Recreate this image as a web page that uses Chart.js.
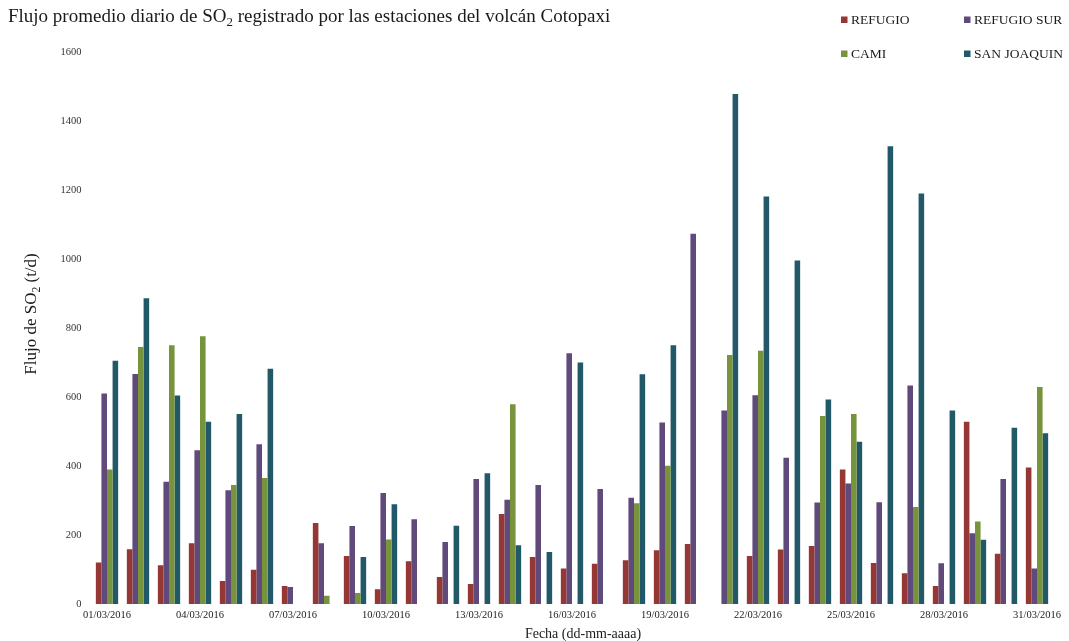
<!DOCTYPE html>
<html>
<head>
<meta charset="utf-8">
<script src="https://cdn.jsdelivr.net/npm/chart.js@4/dist/chart.umd.min.js"></script>
<style>
  html, body { margin: 0; padding: 0; background: #ffffff; }
  #wrap { width: 1069px; height: 641px; }
</style>
</head>
<body>
<div id="wrap"><canvas id="c" width="1069" height="641"></canvas></div>
<script>
// Daily dates, March 2016
const fechas = [
  '01/03/2016','02/03/2016','03/03/2016','04/03/2016','05/03/2016','06/03/2016','07/03/2016',
  '08/03/2016','09/03/2016','10/03/2016','11/03/2016','12/03/2016','13/03/2016','14/03/2016',
  '15/03/2016','16/03/2016','17/03/2016','18/03/2016','19/03/2016','20/03/2016','21/03/2016',
  '22/03/2016','23/03/2016','24/03/2016','25/03/2016','26/03/2016','27/03/2016','28/03/2016',
  '29/03/2016','30/03/2016','31/03/2016'
];

// Mean daily SO2 flux (t/d) per station; null = no measurement
const refugio = [
  120, 159, 112, 176, 67, 99, 52, 235, 139, 43, 124, 78, 58, 261, 136, 103, 117, 127, 156, 174,
  null, 139, 158, 168, 390, 119, 89, 52, 528, 146, 396
];
const refugioSur = [
  610, 667, 354, 446, 330, 463, 49, 176, 226, 322, 246, 180, 362, 302, 345, 727, 333, 308, 526, 1073,
  561, 605, 424, 294, 349, 295, 633, 118, 205, 362, 103
];
const cami = [
  390, 745, 750, 776, 345, 365, null, 24, 32, 187, null, null, null, 579, null, null, null, 292, 401, null,
  722, 734, null, 545, 551, null, 281, null, 239, null, 629
];
const sanJoaquin = [
  705, 886, 604, 528, 551, 682, null, null, 136, 289, null, 227, 379, 170, 151, 700, null, 666, 750, null,
  1478, 1181, 996, 593, 470, 1327, 1190, 561, 186, 511, 495
];

const yTicks = [0, 200, 400, 600, 800, 1000, 1200, 1400, 1600];

const SERIF = '"Liberation Serif", "Times New Roman", serif';

// Draws text runs where some pieces are subscripts; returns total width
function drawRuns(ctx, runs, x, y, size, measureOnly) {
  let cx = x;
  for (const r of runs) {
    const s = r.sub ? size * 0.68 : size;
    ctx.font = s + 'px ' + SERIF;
    if (!measureOnly) ctx.fillText(r.t, cx, y + (r.sub ? size * 0.22 : 0));
    cx += ctx.measureText(r.t).width;
  }
  return cx - x;
}

const textPlugin = {
  id: 'textos',
  afterDraw(chart) {
    const ctx = chart.ctx;
    ctx.save();
    ctx.fillStyle = '#1a1a1a';
    ctx.textBaseline = 'alphabetic';
    ctx.textAlign = 'left';

    // Main title
    drawRuns(ctx, [
      { t: 'Flujo promedio diario de SO' }, { t: '2', sub: true },
      { t: ' registrado por las estaciones del volcán Cotopaxi' }
    ], 8, 22, 19);

    // Y axis title (rotated)
    const yRuns = [{ t: 'Flujo de SO' }, { t: '2', sub: true }, { t: ' (t/d)' }];
    ctx.save();
    ctx.translate(36, 314);
    ctx.rotate(-Math.PI / 2);
    const w = drawRuns(ctx, yRuns, 0, 0, 17, true);
    drawRuns(ctx, yRuns, -w / 2, 0, 17);
    ctx.restore();

    // X axis title
    ctx.font = '14px ' + SERIF;
    ctx.textAlign = 'center';
    ctx.fillText('Fecha (dd-mm-aaaa)', 583, 638);

    // Legend, two columns
    ctx.textAlign = 'left';
    ctx.textBaseline = 'middle';
    ctx.font = '13.5px ' + SERIF;
    const pos = [[841, 20], [964, 20], [841, 54], [964, 54]];
    chart.data.datasets.forEach((ds, i) => {
      const [lx, ly] = pos[i];
      ctx.fillStyle = ds.backgroundColor;
      ctx.fillRect(lx, ly - 3.5, 6.5, 6.5);
      ctx.fillStyle = '#1a1a1a';
      ctx.fillText(ds.label, lx + 10, ly + 0.5);
    });
    ctx.restore();
  }
};

new Chart(document.getElementById('c'), {
  type: 'bar',
  data: {
    labels: fechas,
    datasets: [
      { label: 'REFUGIO', data: refugio, backgroundColor: '#953735' },
      { label: 'REFUGIO SUR', data: refugioSur, backgroundColor: '#604A7B' },
      { label: 'CAMI', data: cami, backgroundColor: '#77933C' },
      { label: 'SAN JOAQUIN', data: sanJoaquin, backgroundColor: '#215968' }
    ]
  },
  options: {
    responsive: false,
    devicePixelRatio: 1,
    animation: false,
    layout: { padding: { left: 0, right: 16.5, top: 52, bottom: 0 } },
    datasets: { bar: { categoryPercentage: 0.72, barPercentage: 1.0, borderWidth: 0 } },
    plugins: { legend: { display: false }, title: { display: false }, tooltip: { enabled: false } },
    scales: {
      x: {
        grid: { display: false, drawTicks: false },
        border: { display: false },
        ticks: {
          autoSkip: false, maxRotation: 0, minRotation: 0, padding: 5,
          color: '#222', font: { family: SERIF, size: 10.5 },
          callback: function (v, i) { return i % 3 === 0 ? fechas[i] : ''; }
        },
        afterFit: (s) => { s.height = 37; }
      },
      y: {
        min: 0, max: 1600,
        grid: { display: false, drawTicks: false },
        border: { display: false },
        afterBuildTicks: (s) => { s.ticks = yTicks.map(v => ({ value: v })); },
        ticks: {
          padding: 10, color: '#333', font: { family: SERIF, size: 10.5 },
          callback: (v) => String(v)
        },
        afterFit: (s) => { s.width = 91.5; }
      }
    }
  },
  plugins: [textPlugin]
});
</script>
</body>
</html>
